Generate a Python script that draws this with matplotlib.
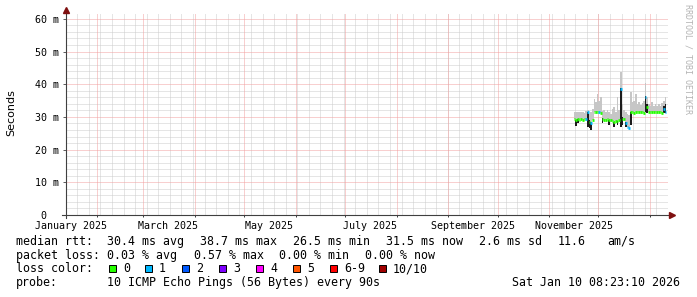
import numpy as np
import matplotlib
matplotlib.use('Agg')
import matplotlib.pyplot as plt
import matplotlib.dates as mdates
from matplotlib.patches import Rectangle
from matplotlib.ticker import MultipleLocator, FuncFormatter

# SmokePing style "last year" graph, rtt values in ms, one entry per day
#-----------------------------------------------

first_day = '2025-11-16'

median_rtt = [29.3, 29.2, 29.3, 29.2, 29.3, 29.2, 29.3, 29.4, 31.5, 28.5,
              28.0, 29.2, 31.4, 31.5, 31.4, 31.5, 31.3, 29.3, 29.2, 29.1,
              29.3, 29.0, 29.1, 28.8, 28.6, 28.9, 28.7, 29.0, 38.5, 29.4,
              29.5, 28.0, 27.0, 26.6, 31.4, 31.5, 31.3, 31.5, 31.4, 31.5,
              31.4, 31.5, 31.3, 36.0, 33.0, 31.4, 31.5, 31.4, 31.5, 31.4,
              31.5, 31.4, 31.5, 31.3, 32.5, 31.5]

smoke_top = [31.5, 31.6, 31.4, 31.5, 31.6, 31.5, 31.3, 31.8, 32.0, 31.0,
             31.5, 32.5, 35.5, 34.5, 37.0, 35.0, 36.2, 31.8, 32.0, 31.6,
             32.2, 31.5, 31.0, 32.5, 33.0, 31.5, 36.0, 32.0, 43.8, 34.0,
             32.0, 31.5, 31.0, 30.5, 37.5, 34.5, 35.0, 37.0, 34.0, 34.5,
             33.8, 34.2, 35.0, 40.3, 36.0, 34.0, 33.5, 34.5, 33.5, 34.0,
             33.2, 34.0, 33.5, 34.2, 35.0, 36.0]

nan = np.nan
dark_lo = [nan, 27.3, 28.0, nan, nan, nan, nan, nan, 27.0, 26.5,
           26.0, nan, nan, nan, nan, nan, nan, 28.0, nan, nan,
           nan, 27.5, nan, nan, 27.0, nan, 27.5, nan, 27.0, 27.5,
           nan, 26.8, nan, nan, 27.5, nan, nan, nan, nan, nan,
           nan, nan, nan, 31.5, 31.2, nan, nan, nan, nan, nan,
           nan, nan, nan, nan, 31.3, 31.3]
dark_hi = [nan, 29.2, 29.3, nan, nan, nan, nan, nan, 31.5, 29.0,
           28.5, nan, nan, nan, nan, nan, nan, 29.8, nan, nan,
           nan, 29.0, nan, nan, 28.6, nan, 28.7, nan, 38.8, 30.0,
           nan, 28.5, nan, nan, 31.4, nan, nan, nan, nan, nan,
           nan, nan, nan, 36.5, 34.0, nan, nan, nan, nan, nan,
           nan, nan, nan, nan, 33.5, 34.0]

loss = [0, 0, 0, 0, 0, 0, 0, 1, 1, 0,
        1, 0, 0, 0, 0, 1, 0, 0, 0, 0,
        0, 0, 0, 0, 0, 0, 0, 0, 1, 0,
        0, 1, 1, 1, 0, 0, 0, 0, 0, 0,
        0, 0, 0, 1, 0, 0, 0, 0, 0, 0,
        0, 0, 0, 0, 1, 1]

loss_labels = ['0', '1', '2', '3', '4', '5', '6-9', '10/10']
loss_colors = ['#26ff00', '#00b8ff', '#0059ff', '#7e00ff', '#ff00ff', '#ff5500', '#ff0000', '#a00000']

rtt_summary = ['30.4 ms avg', '38.7 ms max', '26.5 ms min', '31.5 ms now', '2.6 ms sd', '11.6', 'am/s']
loss_summary = ['0.03 % avg', '0.57 % max', '0.00 % min', '0.00 % now']
probe_text = '10 ICMP Echo Pings (56 Bytes) every 90s'
stamp = 'Sat Jan 10 08:23:10 2026'

# figure and axes
#-----------------------------------------------

W, H = 697, 297
mono = 'DejaVu Sans Mono'
fig = plt.figure(figsize=(W / 100, H / 100), dpi=100)
fig.patch.set_facecolor('white')
ax = fig.add_axes([66 / W, 1 - 215 / H, 602 / W, 202 / H])

x0 = mdates.date2num(np.datetime64('2025-01-13T06:00'))
x1 = mdates.date2num(np.datetime64('2026-01-12T00:00'))
ax.set_xlim(x0, x1)
ax.set_ylim(0, 61.8)
for s in ax.spines.values():
    s.set_visible(False)

# grid: weekly grey, monthly red, 2 ms grey, 10 ms red (1:1 dots)
grey = '#cdcdcd'
red = '#f2a0a0'
dots = (0, (1, 1))
d0, d1 = mdates.num2date(x0), mdates.num2date(x1)
weeks = mdates.WeekdayLocator(byweekday=mdates.MO).tick_values(d0, d1)
ax.vlines(weeks, 0, 1, transform=ax.get_xaxis_transform(), colors=grey,
          linestyles=dots, lw=0.72, snap=True, zorder=0.5)
months = mdates.MonthLocator().tick_values(d0, d1)
months = months[(months > x0) & (months < x1)]
ax.vlines(months, 0, 1, transform=ax.get_xaxis_transform(), colors=red,
          linestyles=dots, lw=0.72, snap=True, zorder=0.6)
ax.vlines(months, -0.012, 0, transform=ax.get_xaxis_transform(), colors='#404040',
          lw=0.72, clip_on=False)

ax.yaxis.set_major_locator(MultipleLocator(10))
ax.yaxis.set_minor_locator(MultipleLocator(2))
ax.yaxis.set_major_formatter(FuncFormatter(lambda v, p: '0  ' if v == 0 else '%d m' % v))
ax.grid(True, axis='y', which='minor', color=grey, linestyle=dots, lw=0.72, zorder=0.5)
ax.grid(True, axis='y', which='major', color=red, linestyle=dots, lw=0.72, zorder=0.6)
ax.set_axisbelow(True)
ax.tick_params(axis='y', which='major', length=2.5, width=0.6, color='#404040',
               pad=2.5, labelsize=7.2, labelfontfamily=mono)
ax.tick_params(axis='y', which='minor', length=0)

ax.xaxis.set_major_locator(mdates.MonthLocator(bymonthday=16, interval=2))
ax.xaxis.set_major_formatter(mdates.DateFormatter('%B %Y'))
ax.tick_params(axis='x', which='major', length=0, pad=4, labelsize=7.2, labelfontfamily=mono)

# axis lines with arrows
ax.plot([0, 0], [-0.015, 1.02], transform=ax.transAxes, color='#404040', lw=0.8, clip_on=False)
ax.plot([-0.007, 1.003], [0, 0], transform=ax.transAxes, color='#404040', lw=0.8, clip_on=False)
ax.plot([0], [1.015], marker='^', ms=4.5, color='#7f1010', transform=ax.transAxes, clip_on=False)
ax.plot([1.006], [0], marker='>', ms=4.5, color='#7f1010', transform=ax.transAxes, clip_on=False)

# data
#-----------------------------------------------

days = mdates.date2num(np.datetime64(first_day) + np.arange(len(median_rtt)))
edges = np.append(days, days[-1] + 1)
med = np.array(median_rtt)
top = np.array(smoke_top)

ax.fill_between(edges, np.append(med, med[-1]), np.append(top, top[-1]),
                step='post', color='#c6c6c6', lw=0, zorder=2)
lo = np.array(dark_lo)
hi = np.array(dark_hi)
ax.bar(days, hi - lo, bottom=lo, width=1, align='edge', color='#1c1c1c', lw=0, zorder=3)

line_cols = [loss_colors[min(l, 6) if l < 10 else 7] for l in loss]
ax.hlines(med, days, days + 1, colors=line_cols, lw=2.0, zorder=4)

# labels and legend
#-----------------------------------------------

fig.text(11 / W, 1 - 113 / H, 'Seconds', rotation=90, ha='center', va='center',
         fontsize=8, family='DejaVu Sans')
fig.text(688 / W, 1 - 59 / H, 'RRDTOOL / TOBI OETIKER', rotation=-90, ha='center',
         va='center', fontsize=6, family=mono, color='#b4b4b4')

ov = fig.add_axes([0, 0, 1, 1], zorder=5)
ov.set_xlim(0, W)
ov.set_ylim(H, 0)
ov.axis('off')
fs = 8.35

ov.text(16, 244.7, 'median rtt:', fontsize=fs, family=mono, va='baseline')
for xp, t in zip([107, 200, 293, 386, 479, 558, 607], rtt_summary):
    ov.text(xp, 244.7, t, fontsize=fs, family=mono, va='baseline')

ov.text(16, 258.7, 'packet loss:', fontsize=fs, family=mono, va='baseline')
for xp, t in zip([107, 194, 279, 365], loss_summary):
    ov.text(xp, 258.7, t, fontsize=fs, family=mono, va='baseline')

ov.text(16, 272.3, 'loss color:', fontsize=fs, family=mono, va='baseline')
for xp, lab, col in zip([109, 145, 182, 219, 256, 293, 330, 379], loss_labels, loss_colors):
    ov.add_patch(Rectangle((xp, 265), 7, 7, facecolor=col, edgecolor='black', lw=0.7))
    ov.text(xp + 14, 272.3, lab, fontsize=fs, family=mono, va='baseline')

ov.text(16, 286.3, 'probe:', fontsize=fs, family=mono, va='baseline')
ov.text(107, 286.3, probe_text, fontsize=fs, family=mono, va='baseline')
ov.text(680, 286.3, stamp, fontsize=fs, family=mono, va='baseline', ha='right')

fig.savefig('out.png', dpi=100, facecolor='white')
